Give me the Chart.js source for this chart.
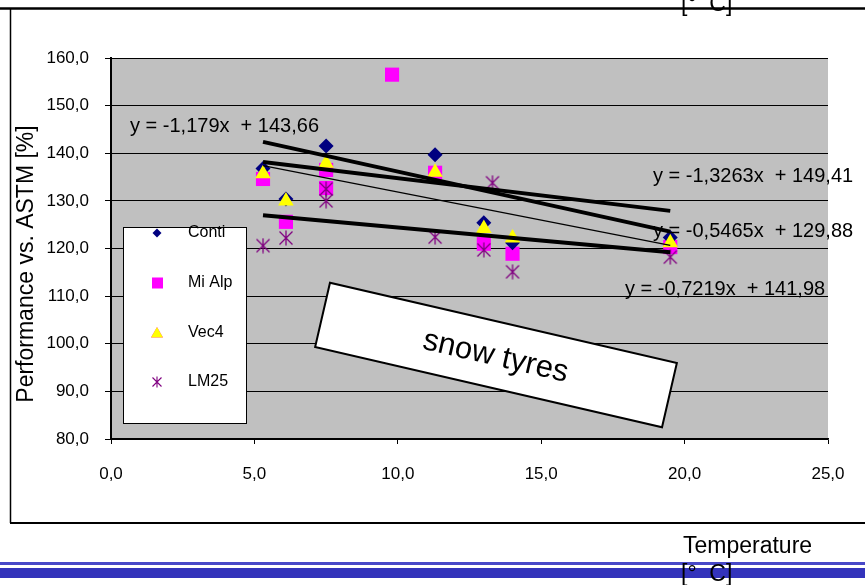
<!DOCTYPE html>
<html>
<head>
<meta charset="utf-8">
<script src="https://cdn.jsdelivr.net/npm/chart.js@4.4.1/dist/chart.umd.min.js"></script>
<style>
  html, body { margin: 0; padding: 0; background: #ffffff; }
  #wrap { width: 865px; height: 585px; position: relative; }
</style>
</head>
<body>
<div id="wrap"><canvas id="chart" width="865" height="585"></canvas></div>
<script>
// Temperature [°C] per measurement, and performance vs. ASTM [%] for each tyre
const contiTemp = [5.3, 6.1, 7.5, 11.3, 13.0, 14.0, 19.5];
const contiPerf = [136.8, 130.4, 141.5, 139.7, 125.4, 121.2, 122.3];

const miAlpTemp = [5.3, 6.1, 7.5, 7.5, 9.8, 11.3, 13.0, 14.0, 19.5];
const miAlpPerf = [134.6, 125.6, 136.5, 132.7, 156.5, 135.9, 121.0, 118.9, 120.3];

const vec4Temp = [5.3, 6.1, 7.5, 11.3, 13.0, 14.0, 19.5];
const vec4Perf = [135.7, 130.0, 137.9, 136.0, 124.2, 122.2, 121.2];

const lm25Temp = [5.3, 6.1, 7.5, 7.5, 11.3, 13.0, 13.3, 14.0, 19.5];
const lm25Perf = [120.6, 122.2, 132.5, 130.0, 122.4, 119.7, 133.8, 115.1, 118.2];

// Linear trendlines: slope, intercept, drawn across the measured range
const trendSlope     = [-1.3263, -0.7219, -1.179, -0.5465];
const trendIntercept = [149.41, 141.98, 143.66, 129.88];
const trendWidth     = [4, 4, 1.2, 4];
const trendRange     = [5.3, 19.5];

// Equation labels shown next to the trendlines
const equationText = [
  'y = -1,179x  + 143,66',
  'y = -1,3263x  + 149,41',
  'y = -0,5465x  + 129,88',
  'y = -0,7219x  + 141,98'
];

const seriesNames = ['Conti', 'Mi Alp', 'Vec4', 'LM25'];
const xTicks = [0, 5, 10, 15, 20, 25];
const yTicks = [80, 90, 100, 110, 120, 130, 140, 150, 160];

const FONT = "'Liberation Sans', Arial, sans-serif";
const PURPLE = '#800080';

function pairs(xs, ys) { return xs.map((x, i) => ({ x: x, y: ys[i] })); }
function fmt(v) { return v.toFixed(1).replace('.', ','); }

// Excel-style asterisk marker: an X crossed by a vertical stroke
function starMarker(size, lw) {
  const c = document.createElement('canvas');
  c.width = size; c.height = size;
  const g = c.getContext('2d');
  g.strokeStyle = PURPLE;
  g.lineWidth = lw;
  const m = 1.5, s = size - 1.5, h = size / 2;
  g.beginPath();
  g.moveTo(m, m); g.lineTo(s, s);
  g.moveTo(s, m); g.lineTo(m, s);
  g.moveTo(h, 0.5); g.lineTo(h, size - 0.5);
  g.stroke();
  return c;
}
const starBig = starMarker(16, 1.3);
const starSmall = starMarker(12, 1.1);

const trendSets = trendSlope.map((k, i) => ({
  label: 'trend' + i,
  data: trendRange.map(x => ({ x: x, y: k * x + trendIntercept[i] })),
  showLine: true,
  borderColor: '#000000',
  borderWidth: trendWidth[i],
  pointRadius: 0,
  fill: false,
  order: 0
}));

// Plot background, frame and decorations
const decor = {
  id: 'decor',
  beforeDraw(chart) {
    const ctx = chart.ctx;
    const a = chart.chartArea;
    ctx.save();
    ctx.fillStyle = '#ffffff';
    ctx.fillRect(0, 0, chart.width, chart.height);
    ctx.fillStyle = '#c0c0c0';
    ctx.fillRect(a.left, a.top, a.right - a.left, a.bottom - a.top);

    // outer frame
    ctx.strokeStyle = '#000000';
    ctx.lineWidth = 2.5;
    ctx.beginPath(); ctx.moveTo(0, 8.5); ctx.lineTo(865, 8.5); ctx.stroke();
    ctx.lineWidth = 1.5;
    ctx.beginPath(); ctx.moveTo(10.5, 8); ctx.lineTo(10.5, 523); ctx.stroke();
    ctx.lineWidth = 2;
    ctx.beginPath(); ctx.moveTo(10, 523); ctx.lineTo(865, 523); ctx.stroke();

    // blue rules at the bottom
    ctx.fillStyle = '#4848c8';
    ctx.fillRect(0, 562, 865, 3);
    ctx.fillStyle = '#3333bb';
    ctx.fillRect(0, 568, 865, 10);

    // text bits at the top right and bottom right
    ctx.fillStyle = '#000000';
    ctx.font = '23px ' + FONT;
    ctx.textAlign = 'left';
    ctx.textBaseline = 'alphabetic';
    ctx.fillText('[°  C]', 681, 11);
    ctx.fillText('Temperature', 683, 553);
    ctx.fillText('[°  C]', 681, 581);

    // y-axis title
    ctx.save();
    ctx.translate(27, 264);
    ctx.rotate(-Math.PI / 2);
    ctx.textAlign = 'center';
    ctx.textBaseline = 'middle';
    ctx.font = '23px ' + FONT;
    ctx.fillText('Performance vs. ASTM [%]', 0, 0);
    ctx.restore();
    ctx.restore();
  },
  afterDraw(chart) {
    const ctx = chart.ctx;
    ctx.save();

    // trendline equations
    ctx.fillStyle = '#000000';
    ctx.font = '20px ' + FONT;
    ctx.textBaseline = 'middle';
    ctx.textAlign = 'left';
    const eqPos = [[130, 126], [653, 176], [653, 231], [625, 289]];
    equationText.forEach((t, i) => ctx.fillText(t, eqPos[i][0], eqPos[i][1]));

    // legend box
    ctx.fillStyle = '#ffffff';
    ctx.fillRect(123, 227, 124, 197);
    ctx.strokeStyle = '#000000';
    ctx.lineWidth = 1;
    ctx.strokeRect(123.5, 227.5, 123, 196);
    const rows = [233, 283, 333, 382];
    const helpers = Chart.helpers;
    helpers.drawPoint(ctx, { pointStyle: 'rectRot', radius: 4.5, borderWidth: 0 }, 157, rows[0]);
    ctx.fillStyle = '#000080'; ctx.fill();
    ctx.fillStyle = '#ff00ff'; ctx.fillRect(152, rows[1] - 5.5, 11, 11);
    helpers.drawPoint(ctx, { pointStyle: 'triangle', radius: 7, borderWidth: 0 }, 157, rows[2] + 1);
    ctx.fillStyle = '#ffff00'; ctx.fill();
    ctx.drawImage(starSmall, 151, rows[3] - 6);
    ctx.fillStyle = '#000000';
    ctx.font = '16px ' + FONT;
    seriesNames.forEach((n, i) => ctx.fillText(n, 188, rows[i]));

    // rotated "snow tyres" box
    ctx.save();
    ctx.translate(496, 355);
    ctx.rotate(13 * Math.PI / 180);
    ctx.fillStyle = '#ffffff';
    ctx.fillRect(-178, -33, 356, 66);
    ctx.strokeStyle = '#000000';
    ctx.lineWidth = 2;
    ctx.strokeRect(-178, -33, 356, 66);
    ctx.fillStyle = '#000000';
    ctx.font = '31px ' + FONT;
    ctx.textAlign = 'center';
    ctx.textBaseline = 'middle';
    ctx.fillText('snow tyres', 0, 2);
    ctx.restore();

    ctx.restore();
  }
};

new Chart(document.getElementById('chart'), {
  type: 'scatter',
  data: {
    datasets: [
      ...trendSets,
      {
        label: seriesNames[3],
        data: pairs(lm25Temp, lm25Perf),
        pointStyle: starBig,
        pointRadius: 8,
        order: 1
      },
      {
        label: seriesNames[2],
        data: pairs(vec4Temp, vec4Perf),
        pointStyle: 'triangle',
        pointRadius: 9,
        backgroundColor: '#ffff00',
        borderColor: '#ffff00',
        borderWidth: 0,
        order: 2
      },
      {
        label: seriesNames[0],
        data: pairs(contiTemp, contiPerf),
        pointStyle: 'rectRot',
        pointRadius: 7.5,
        backgroundColor: '#000080',
        borderColor: '#000080',
        borderWidth: 0,
        order: 3
      },
      {
        label: seriesNames[1],
        data: pairs(miAlpTemp, miAlpPerf),
        pointStyle: 'rect',
        pointRadius: 10,
        backgroundColor: '#ff00ff',
        borderColor: '#ff00ff',
        borderWidth: 0,
        order: 4
      }
    ]
  },
  options: {
    responsive: false,
    animation: false,
    events: [],
    layout: { padding: { top: 58, right: 37, left: 0, bottom: 0 } },
    plugins: { legend: { display: false }, tooltip: { enabled: false } },
    scales: {
      x: {
        type: 'linear',
        min: 0, max: 25,
        afterFit(s) { s.height = 146; },
        afterBuildTicks(s) { s.ticks = xTicks.map(v => ({ value: v })); },
        grid: { drawOnChartArea: false, drawTicks: true, tickLength: 5, color: '#000000' },
        border: { display: true, color: '#000000', width: 1.5 },
        ticks: {
          color: '#000000',
          font: { family: FONT, size: 17 },
          padding: 20,
          maxRotation: 0,
          callback: v => fmt(v)
        }
      },
      y: {
        type: 'linear',
        min: 80, max: 160,
        afterFit(s) { s.width = 111; },
        afterBuildTicks(s) { s.ticks = yTicks.map(v => ({ value: v })); },
        grid: { drawOnChartArea: true, drawTicks: true, tickLength: 6, color: '#000000', lineWidth: 1 },
        border: { display: true, color: '#000000', width: 2 },
        ticks: {
          color: '#000000',
          font: { family: FONT, size: 17 },
          padding: 16,
          callback: v => fmt(v)
        }
      }
    }
  },
  plugins: [decor]
});
</script>
</body>
</html>
